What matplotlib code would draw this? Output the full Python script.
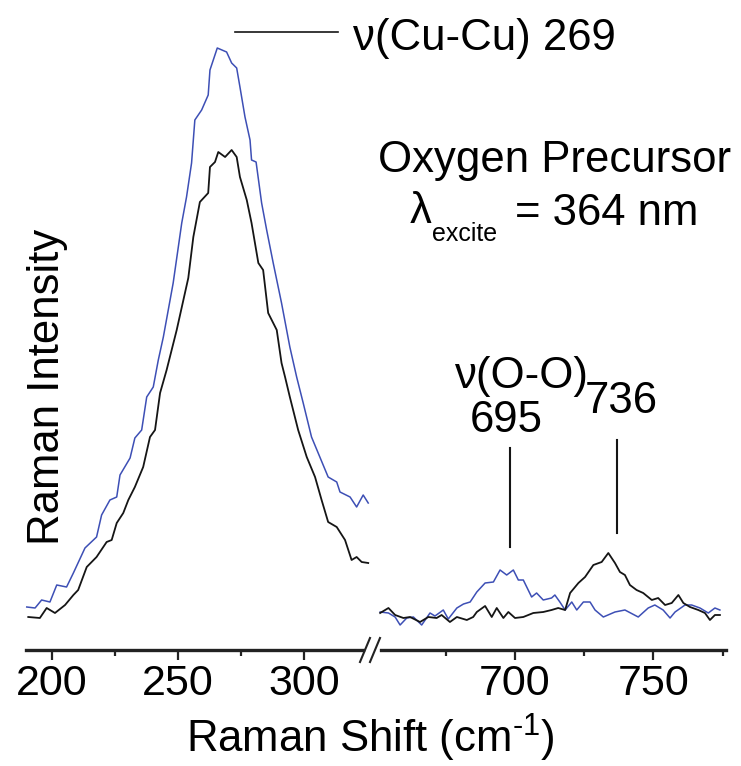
import matplotlib
matplotlib.use('Agg')
import matplotlib.pyplot as plt
from matplotlib.lines import Line2D

plt.rcParams['font.family'] = ['Liberation Sans', 'DejaVu Sans']
plt.rcParams['mathtext.fontset'] = 'custom'
plt.rcParams['mathtext.rm'] = 'Liberation Sans'
plt.rcParams['mathtext.it'] = 'Liberation Sans:italic'

# low-frequency window (cm-1) and intensities (arb. units)
low_shift_black = [190.6, 195.2, 197.9, 201.2, 205.2, 208.5, 210.4, 213.8, 217.7, 221.7,
                   223.7, 225.7, 228.3, 230.3, 232.9, 236.2, 238.9, 240.9, 242.9, 245.5,
                   249.5, 254.1, 256.1, 258.7, 262.0, 262.7, 264.7, 266.0, 268.7, 271.3,
                   273.3, 274.6, 277.3, 279.2, 281.9, 283.8, 285.8, 289.2, 291.1, 292.5,
                   294.4, 297.7, 301.1, 304.4, 307.0, 309.6, 313.0, 316.3, 318.9, 320.9,
                   322.9, 325.5]
low_int_black = [0.33, 0.32, 0.42, 0.37, 0.45, 0.55, 0.60, 0.83, 0.93, 1.08,
                 1.10, 1.27, 1.37, 1.50, 1.63, 1.83, 2.13, 2.20, 2.57, 2.80,
                 3.20, 3.72, 4.13, 4.48, 4.57, 4.83, 4.88, 4.98, 4.93, 5.00,
                 4.93, 4.73, 4.50, 4.27, 3.87, 3.80, 3.37, 3.20, 2.87, 2.73,
                 2.53, 2.20, 1.93, 1.73, 1.50, 1.28, 1.23, 1.10, 0.90, 0.93,
                 0.88, 0.87]

low_shift_blue = [190.0, 193.3, 195.9, 199.2, 201.9, 205.8, 208.5, 213.1, 217.7, 219.7,
                  223.0, 225.7, 227.0, 231.0, 232.9, 235.6, 237.6, 240.2, 242.2, 244.2,
                  248.1, 251.5, 253.4, 255.4, 256.7, 259.4, 262.0, 262.7, 265.6, 269.3,
                  271.3, 273.3, 274.6, 276.6, 278.6, 279.2, 281.0, 283.2, 285.2, 287.8,
                  291.1, 294.4, 297.1, 299.7, 303.0, 306.3, 309.6, 313.0, 314.3, 318.3,
                  320.9, 323.5, 325.5]
low_int_blue = [0.43, 0.42, 0.50, 0.48, 0.65, 0.63, 0.77, 1.02, 1.13, 1.35,
                1.50, 1.53, 1.75, 1.92, 2.12, 2.20, 2.53, 2.63, 2.90, 3.13,
                3.67, 4.27, 4.53, 4.87, 5.30, 5.40, 5.55, 5.80, 6.02, 5.98,
                5.87, 5.82, 5.63, 5.33, 5.10, 4.90, 4.88, 4.47, 4.20, 3.87,
                3.47, 3.03, 2.73, 2.47, 2.13, 1.93, 1.73, 1.68, 1.58, 1.53,
                1.43, 1.55, 1.47]

# high-frequency window
high_shift_black = [651.3, 654.3, 656.7, 659.7, 662.1, 665.7, 668.7, 671.7, 673.5, 676.5,
                    679.0, 682.6, 684.9, 686.2, 689.2, 691.6, 693.4, 695.8, 697.6, 700.0,
                    703.0, 706.6, 710.2, 713.2, 715.6, 718.1, 719.9, 722.9, 725.3, 728.3,
                    731.3, 733.7, 736.1, 737.9, 739.7, 741.5, 743.9, 746.3, 749.4, 751.7,
                    754.2, 756.6, 759.0, 760.8, 763.2, 766.2, 768.6, 770.4, 772.2, 774.0]
high_int_black = [0.37, 0.42, 0.35, 0.32, 0.33, 0.28, 0.33, 0.32, 0.35, 0.28,
                  0.33, 0.30, 0.33, 0.38, 0.44, 0.33, 0.42, 0.32, 0.38, 0.32,
                  0.33, 0.37, 0.38, 0.40, 0.42, 0.40, 0.57, 0.67, 0.73, 0.85,
                  0.88, 0.97, 0.87, 0.78, 0.75, 0.65, 0.60, 0.57, 0.50, 0.52,
                  0.45, 0.47, 0.55, 0.47, 0.43, 0.40, 0.37, 0.30, 0.35, 0.35]

high_shift_blue = [651.3, 654.3, 656.7, 658.5, 660.9, 663.3, 666.3, 669.3, 671.1, 674.1,
                   675.9, 679.0, 681.4, 683.8, 686.2, 689.2, 692.2, 694.6, 697.0, 699.4,
                   701.2, 703.0, 706.0, 707.8, 710.2, 713.2, 714.4, 716.2, 718.1, 720.5,
                   722.3, 724.7, 727.1, 728.9, 731.9, 736.1, 739.7, 744.5, 748.1, 750.5,
                   753.5, 756.0, 757.8, 761.4, 763.8, 766.8, 769.8, 772.2, 774.0]
high_int_blue = [0.38, 0.37, 0.33, 0.25, 0.32, 0.33, 0.25, 0.37, 0.34, 0.40,
                 0.31, 0.42, 0.46, 0.48, 0.58, 0.67, 0.68, 0.80, 0.75, 0.80,
                 0.70, 0.70, 0.53, 0.57, 0.50, 0.52, 0.55, 0.48, 0.40, 0.48,
                 0.40, 0.48, 0.48, 0.40, 0.33, 0.38, 0.40, 0.33, 0.42, 0.45,
                 0.40, 0.32, 0.38, 0.45, 0.45, 0.42, 0.37, 0.42, 0.40]

low_major = [200, 250, 300]
low_minor = [225, 275]
high_major = [700, 750]
high_minor = [675, 725, 775]

BLUE = '#3d4fb5'
BLACK = '#151515'
FS = 31.5

W, H = 741, 766
fig = plt.figure(figsize=(W / 100, H / 100), dpi=100)


def fx(px):
    return px / W


def fy(py):
    return 1 - py / H


ax1 = fig.add_axes([fx(26), fy(650), fx(372) - fx(26), fy(30) - fy(650)])
ax2 = fig.add_axes([fx(376), fy(650), fx(726) - fx(376), fy(30) - fy(650)])

ax1.plot(low_shift_blue, low_int_blue, color=BLUE, lw=1.1, clip_on=False)
ax1.plot(low_shift_black, low_int_black, color=BLACK, lw=1.3, clip_on=False)
ax2.plot(high_shift_blue, high_int_blue, color=BLUE, lw=1.1, clip_on=False)
ax2.plot(high_shift_black, high_int_black, color=BLACK, lw=1.3, clip_on=False)

ax1.set_xlim(189.7, 327.0)
ax2.set_xlim(649.8, 776.2)
for ax, major, minor in [(ax1, low_major, low_minor), (ax2, high_major, high_minor)]:
    ax.set_ylim(0, 6.2)
    ax.patch.set_visible(False)
    for s in ['top', 'left', 'right']:
        ax.spines[s].set_visible(False)
    ax.spines['bottom'].set_linewidth(2.4)
    ax.spines['bottom'].set_color('#222222')
    ax.set_yticks([])
    ax.set_xticks(major)
    ax.set_xticks(minor, minor=True)
    ax.tick_params(axis='x', which='major', length=7, width=1.6, labelsize=31, pad=3,
                   color='#222222')
    ax.tick_params(axis='x', which='minor', length=4, width=1.6, color='#222222')
ax1.spines['bottom'].set_bounds(189.7, 323.5)
ax2.spines['bottom'].set_bounds(651.5, 776.2)

# axis break marks
for x0 in (360, 370):
    fig.add_artist(Line2D([fx(x0), fx(x0 + 10)], [fy(662), fy(638)], color='#222222', lw=1.5))

fig.text(fx(370), fy(753), r'Raman Shift (cm$^{\text{-1}}$)', ha='center', va='baseline',
         fontsize=FS)
fig.text(fx(48), fy(387), 'Raman Intensity', rotation=90, ha='center', va='center', fontsize=FS)

# Cu-Cu annotation
ax1.plot([272.6, 313.5], [6.18, 6.18], color=BLACK, lw=1.2, clip_on=False)
ax1.text(319.4, 6.0, 'ν(Cu-Cu) 269', ha='left', va='baseline', fontsize=FS, clip_on=False)

fig.text(fx(555), fy(172), 'Oxygen Precursor', ha='center', va='baseline', fontsize=FS)
fig.text(fx(410), fy(223), 'λ', ha='left', va='baseline', fontsize=FS)
fig.text(fx(432), fy(241), 'excite', ha='left', va='baseline', fontsize=18)
fig.text(fx(515), fy(225), '= 364 nm', ha='left', va='baseline', fontsize=FS)

# O-O annotation
ax2.plot([698.2, 698.2], [1.03, 2.02], color=BLACK, lw=1.5)
ax2.plot([736.8, 736.8], [1.17, 2.10], color=BLACK, lw=1.5)
ax2.text(696.8, 2.18, '695', ha='center', va='baseline', fontsize=FS)
ax2.text(738.3, 2.37, '736', ha='center', va='baseline', fontsize=FS)
ax2.text(702.5, 2.62, 'ν(O-O)', ha='center', va='baseline', fontsize=FS)

fig.savefig('out.png', dpi=100)
